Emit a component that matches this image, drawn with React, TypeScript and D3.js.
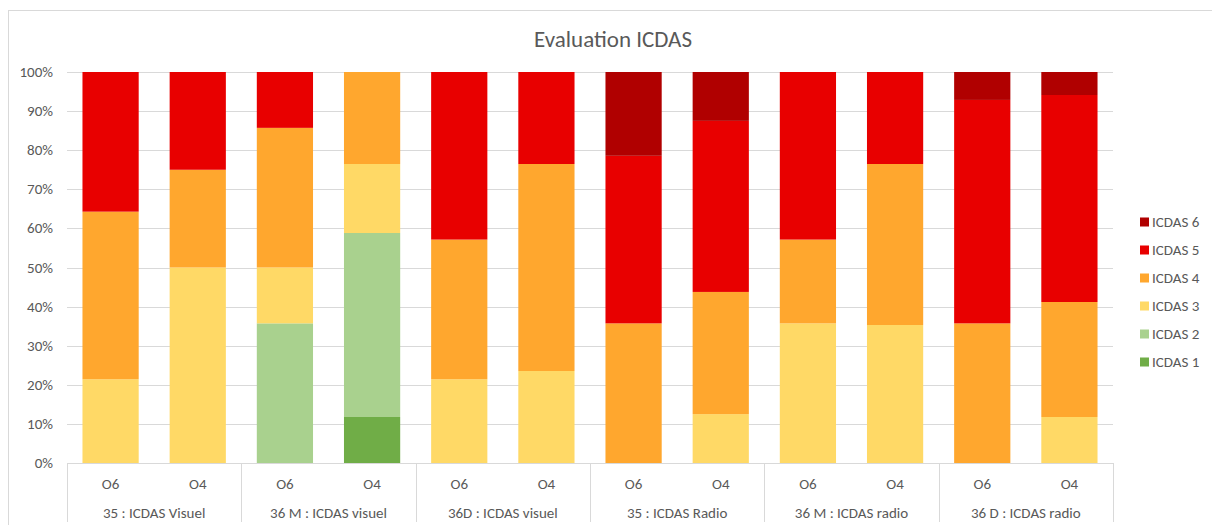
import { useEffect, useRef } from "react";
import * as d3 from "d3";

// groups along the x axis, each with two bars
const groups = [
  "35 : ICDAS Visuel",
  "36 M : ICDAS visuel",
  "36D : ICDAS visuel",
  "35 : ICDAS Radio",
  "36 M : ICDAS radio",
  "36 D : ICDAS radio",
];
const subLabels = ["O6", "O4"];

const seriesNames = ["ICDAS 1", "ICDAS 2", "ICDAS 3", "ICDAS 4", "ICDAS 5", "ICDAS 6"];
const seriesColors = ["#70ad47", "#a9d18e", "#ffd966", "#ffa72e", "#e80000", "#b00000"];

// counts per bar (12 bars, group order then O6/O4)
const icdas1 = [0, 0, 0, 2, 0, 0, 0, 0, 0, 0, 0, 0];
const icdas2 = [0, 0, 5, 8, 0, 0, 0, 0, 0, 0, 0, 0];
const icdas3 = [3, 2, 2, 3, 3, 4, 0, 2, 5, 6, 0, 2];
const icdas4 = [6, 1, 5, 4, 5, 9, 5, 5, 3, 7, 5, 5];
const icdas5 = [5, 1, 2, 0, 6, 4, 6, 7, 6, 4, 8, 9];
const icdas6 = [0, 0, 0, 0, 0, 0, 3, 2, 0, 0, 1, 1];

const yTicks = [0, 0.1, 0.2, 0.3, 0.4, 0.5, 0.6, 0.7, 0.8, 0.9, 1];

const FONT = "Calibri, Carlito, Lato, 'Open Sans', sans-serif";

export default function App() {
  const ref = useRef<SVGSVGElement>(null);
  const width = 1212;
  const height = 525;
  const left = 67;
  const right = 1113;
  const top = 72;
  const bottom = 463;

  useEffect(() => {
    const svg = d3.select(ref.current);
    svg.selectAll("*").remove();

    const all = [icdas1, icdas2, icdas3, icdas4, icdas5, icdas6];
    const rows = d3.range(12).map((i) => {
      const r: Record<string, number | string> = { id: i };
      seriesNames.forEach((s, k) => (r[s] = all[k][i]));
      return r;
    });

    const stack = d3
      .stack<Record<string, number | string>>()
      .keys(seriesNames)
      .offset(d3.stackOffsetExpand);
    const layers = stack(rows as any);

    const x = d3
      .scaleBand<number>()
      .domain(d3.range(12))
      .range([left, right])
      .paddingInner(0.355)
      .paddingOuter(0.1775);
    const xg = d3.scaleBand<string>().domain(groups).range([left, right]);
    const y = d3.scaleLinear().domain([0, 1]).range([bottom, top]);

    // border
    svg
      .append("rect")
      .attr("x", 8.5)
      .attr("y", 10.5)
      .attr("width", 1220)
      .attr("height", 530)
      .attr("fill", "white")
      .attr("stroke", "#d9d9d9");

    svg
      .append("text")
      .attr("x", 613)
      .attr("y", 47)
      .attr("text-anchor", "middle")
      .attr("font-family", FONT)
      .attr("font-size", 23)
      .attr("fill", "#595959")
      .text("Evaluation ICDAS");

    // gridlines
    svg
      .append("g")
      .selectAll("line")
      .data(yTicks.slice(1))
      .join("line")
      .attr("x1", left)
      .attr("x2", right)
      .attr("y1", (d) => Math.round(y(d)) + 0.5)
      .attr("y2", (d) => Math.round(y(d)) + 0.5)
      .attr("stroke", "#d9d9d9");

    svg
      .append("g")
      .selectAll("text")
      .data(yTicks)
      .join("text")
      .attr("x", 53)
      .attr("y", (d) => y(d) + 5)
      .attr("text-anchor", "end")
      .attr("font-family", FONT)
      .attr("font-size", 15)
      .attr("fill", "#595959")
      .text((d) => d3.format(".0%")(d));

    // bars
    svg
      .append("g")
      .selectAll("g")
      .data(layers)
      .join("g")
      .attr("fill", (_, i) => seriesColors[i])
      .selectAll("rect")
      .data((d) => d)
      .join("rect")
      .attr("x", (_, i) => x(i)!)
      .attr("width", x.bandwidth())
      .attr("y", (d) => y(d[1]))
      .attr("height", (d) => y(d[0]) - y(d[1]));

    // category axis
    const ax = svg.append("g").attr("stroke", "#d9d9d9");
    ax.append("line")
      .attr("x1", left)
      .attr("x2", right)
      .attr("y1", bottom + 0.5)
      .attr("y2", bottom + 0.5);
    ax.selectAll("line.sep")
      .data(d3.range(groups.length + 1))
      .join("line")
      .attr("class", "sep")
      .attr("x1", (i) => Math.round(left + i * xg.bandwidth()) + 0.5)
      .attr("x2", (i) => Math.round(left + i * xg.bandwidth()) + 0.5)
      .attr("y1", bottom)
      .attr("y2", 522);

    svg
      .append("g")
      .selectAll("text")
      .data(d3.range(12))
      .join("text")
      .attr("x", (i) => x(i)! + x.bandwidth() / 2)
      .attr("y", 489)
      .attr("text-anchor", "middle")
      .attr("font-family", FONT)
      .attr("font-size", 15)
      .attr("fill", "#595959")
      .text((i) => subLabels[i % 2]);

    svg
      .append("g")
      .selectAll("text")
      .data(groups)
      .join("text")
      .attr("x", (g) => xg(g)! + xg.bandwidth() / 2)
      .attr("y", 518)
      .attr("text-anchor", "middle")
      .attr("font-family", FONT)
      .attr("font-size", 15)
      .attr("fill", "#595959")
      .text((g) => g);

    // legend, top entry is ICDAS 6
    const legend = svg
      .append("g")
      .selectAll("g")
      .data(seriesNames.slice().reverse())
      .join("g")
      .attr("transform", (_, i) => `translate(1140, ${222 + i * 28})`);
    legend
      .append("rect")
      .attr("x", 0)
      .attr("y", -4.5)
      .attr("width", 9)
      .attr("height", 9)
      .attr("fill", (d) => seriesColors[seriesNames.indexOf(d)]);
    legend
      .append("text")
      .attr("x", 12)
      .attr("y", 5)
      .attr("font-family", FONT)
      .attr("font-size", 15)
      .attr("fill", "#595959")
      .text((d) => d);
  }, []);

  return (
    <div style={{ position: "absolute", left: 0, top: 0 }}>
      <svg ref={ref} width={width} height={height} style={{ display: "block" }} />
    </div>
  );
}
